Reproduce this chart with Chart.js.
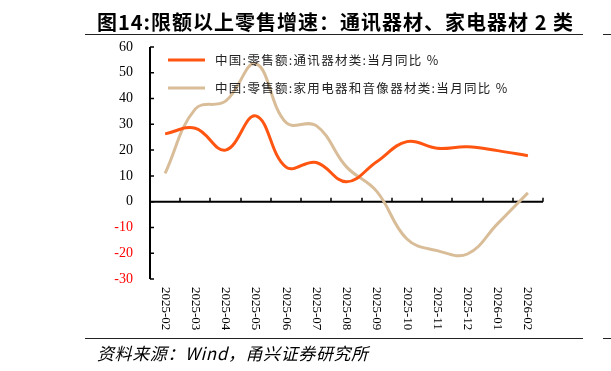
<!DOCTYPE html>
<html>
<head>
<meta charset="utf-8">
<script src="https://cdn.jsdelivr.net/npm/chart.js@4.4.1/dist/chart.umd.min.js"></script>
<style>
  html, body { margin: 0; padding: 0; background: #fff; }
  #wrap { position: relative; width: 611px; height: 371px; overflow: hidden; }
  #chart { position: absolute; left: 0; top: 0; }
  .title { position: absolute; left: 97px; top: 7px; font: bold 20px "Noto Sans CJK SC", sans-serif; letter-spacing: 1px; color: #000; white-space: nowrap; }
  .rule { position: absolute; height: 0; border-top: 1.5px solid #222; }
  .source { position: absolute; left: 97px; top: 340px; font: italic 17px "Noto Sans CJK SC", sans-serif; letter-spacing: 0.6px; color: #000; white-space: nowrap; }
</style>
</head>
<body>
<div id="wrap">
  <canvas id="chart" width="611" height="371"></canvas>
  <div class="title">图14:限额以上零售增速：通讯器材、家电器材 2 类</div>
  <div class="rule" style="left:85px;top:34px;width:498px"></div>
  <div class="rule" style="left:603px;top:34px;width:8px"></div>
  <div class="rule" style="left:85px;top:338px;width:498px"></div>
  <div class="rule" style="left:603px;top:338px;width:8px"></div>
  <div class="source">资料来源：Wind，甬兴证券研究所</div>
</div>
<script>
const months = ["2025-02", "2025-03", "2025-04", "2025-05", "2025-06", "2025-07", "2025-08",
  "2025-09", "2025-10", "2025-11", "2025-12", "2026-01", "2026-02"];
const commsYoY = [26.3, 28.5, 20.0, 33.3, 13.4, 15.2, 7.7, 15.5, 23.3, 20.7, 21.3, 19.8, 17.8];
const appliancesYoY = [11.0, 36.0, 39.0, 53.5, 30.7, 29.5, 13.5, 4.0, -14.5, -19.0, -20.3, -8.5, 3.4];
const yTicks = [-30, -20, -10, 0, 10, 20, 30, 40, 50, 60];

const serif = "'Liberation Serif', 'Times New Roman', serif";
const cjk = "'Noto Sans CJK SC', sans-serif";

// axis lines, inner tick marks, rotated month labels and the legend
const decorations = {
  id: "decorations",
  beforeDatasetsDraw(chart) {
    const { ctx, chartArea: area } = chart;
    const x = chart.scales.x, y = chart.scales.y;
    const zero = y.getPixelForValue(0);
    ctx.save();
    ctx.strokeStyle = "#000";
    ctx.lineWidth = 2;
    ctx.beginPath();
    ctx.moveTo(area.left, zero);
    ctx.lineTo(area.right, zero);
    ctx.moveTo(area.left, area.top);
    ctx.lineTo(area.left, area.bottom);
    ctx.stroke();
    ctx.lineWidth = 1.5;
    ctx.beginPath();
    yTicks.forEach((v) => {
      const py = y.getPixelForValue(v);
      ctx.moveTo(area.left, py);
      ctx.lineTo(area.left + 4, py);
    });
    for (let i = 1; i <= months.length; i++) {
      const px = Math.round(x.getPixelForValue(i - 0.5));
      ctx.moveTo(px, zero);
      ctx.lineTo(px, zero - 4);
    }
    ctx.stroke();
    ctx.restore();
  },
  afterDraw(chart) {
    const { ctx, chartArea: area } = chart;
    const x = chart.scales.x;
    ctx.save();
    ctx.fillStyle = "#000";
    ctx.font = "13px " + serif;
    ctx.textAlign = "left";
    ctx.textBaseline = "middle";
    months.forEach((m, i) => {
      ctx.save();
      ctx.translate(x.getPixelForValue(i), area.bottom + 8);
      ctx.rotate(Math.PI / 2);
      ctx.fillText(m, 0, 0);
      ctx.restore();
    });
    const rows = [60, 88];
    ctx.letterSpacing = "1.3px";
    chart.data.datasets.forEach((ds, i) => {
      ctx.strokeStyle = ds.borderColor;
      ctx.lineWidth = 3;
      ctx.beginPath();
      ctx.moveTo(168, rows[i]);
      ctx.lineTo(205, rows[i]);
      ctx.stroke();
      ctx.fillStyle = "#222";
      ctx.font = "12.5px " + cjk;
      ctx.fillText(ds.label, 215, rows[i]);
    });
    ctx.restore();
  }
};

new Chart(document.getElementById("chart"), {
  type: "line",
  data: {
    labels: months,
    datasets: [
      {
        label: "中国:零售额:通讯器材类:当月同比 %",
        data: commsYoY,
        borderColor: "#FF5511",
        borderWidth: 3,
        pointRadius: 0,
        tension: 0.4,
      },
      {
        label: "中国:零售额:家用电器和音像器材类:当月同比 %",
        data: appliancesYoY,
        borderColor: "#D8BD98",
        borderWidth: 3,
        pointRadius: 0,
        tension: 0.4,
      },
    ],
  },
  options: {
    responsive: false,
    animation: false,
    layout: { padding: { top: 47, right: 68, bottom: 92, left: 0 } },
    plugins: { legend: { display: false }, tooltip: { enabled: false } },
    scales: {
      x: {
        display: false,
        offset: true,
      },
      y: {
        min: -30,
        max: 60,
        afterFit: (s) => { s.width = 150; },
        border: { display: false },
        grid: { display: false, drawTicks: false },
        ticks: {
          stepSize: 10,
          padding: 17,
          font: { family: serif, size: 14 },
          color: (c) => (c.tick.value < 0 ? "#FF0000" : "#000"),
        },
      },
    },
  },
  plugins: [decorations],
});
</script>
</body>
</html>
